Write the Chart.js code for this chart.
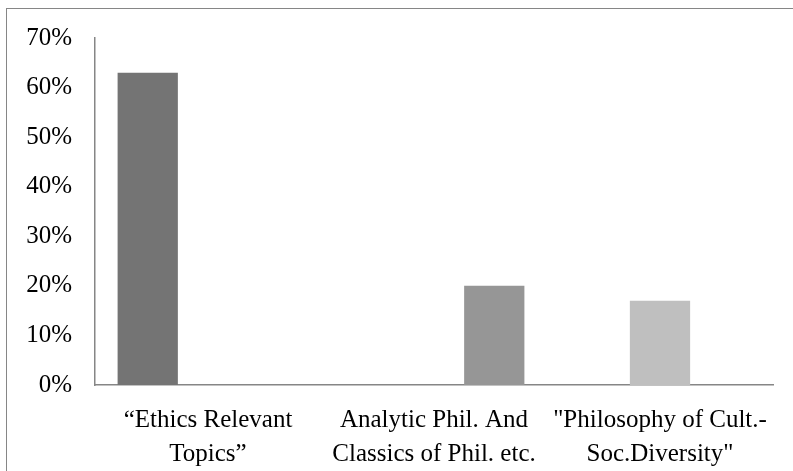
<!DOCTYPE html>
<html>
<head>
<meta charset="utf-8">
<script src="https://cdn.jsdelivr.net/npm/chart.js@4"></script>
<style>
  html, body { margin: 0; padding: 0; background: #fff; overflow: hidden; }
  #frame { position: absolute; left: 6px; top: 8px; width: 820px; height: 500px; border: 1px solid #868686; }
  #wrap { position: absolute; left: 0; top: 0; width: 793px; height: 471px; }
</style>
</head>
<body>
<div id="frame"></div>
<div id="wrap"><canvas id="topicsChart"></canvas></div>
<script>
const categories = [
    ['\u201CEthics Relevant', 'Topics\u201D'],
    ['Analytic Phil. And', 'Classics of Phil. etc.'],
    ['"Philosophy of Cult.-', 'Soc.Diversity"']
];
const ethicsShare = [63, null, null];
const diversityShare = [null, null, 17];
const analyticShare = [null, 20, null];
const yTicks = [0, 10, 20, 30, 40, 50, 60, 70];

const serif = { family: '"Liberation Serif", "Times New Roman", serif', size: 25 };

const ctx = document.getElementById('topicsChart').getContext('2d');
new Chart(ctx, {
    type: 'bar',
    data: {
        labels: categories,
        datasets: [
            { label: 'Ethics', data: ethicsShare, backgroundColor: '#747474' },
            { label: 'Diversity', data: diversityShare, backgroundColor: '#bfbfbf' },
            { label: 'Analytic', data: analyticShare, backgroundColor: '#969696' }
        ]
    },
    options: {
        responsive: true,
        maintainAspectRatio: false,
        animation: false,
        categoryPercentage: 0.8,
        barPercentage: 1.0,
        layout: { padding: { left: 0, top: 37, right: 20, bottom: 0 } },
        plugins: { legend: { display: false }, tooltip: { enabled: false } },
        scales: {
            x: {
                grid: { display: false, drawTicks: false },
                border: { display: true, color: '#868686', width: 1.5 },
                ticks: { color: '#000', font: { ...serif, lineHeight: 1.35 }, padding: 19, maxRotation: 0, autoSkip: false },
                afterFit: (s) => { s.height = 86; }
            },
            y: {
                min: 0,
                max: 70,
                afterBuildTicks: (s) => { s.ticks = yTicks.map(v => ({ value: v })); },
                grid: { display: false, drawTicks: false },
                border: { display: true, color: '#868686', width: 1.5 },
                ticks: { color: '#000', font: serif, padding: 23, callback: (v) => v + '%' },
                afterFit: (s) => { s.width = 95; }
            }
        }
    }
});
</script>
</body>
</html>
